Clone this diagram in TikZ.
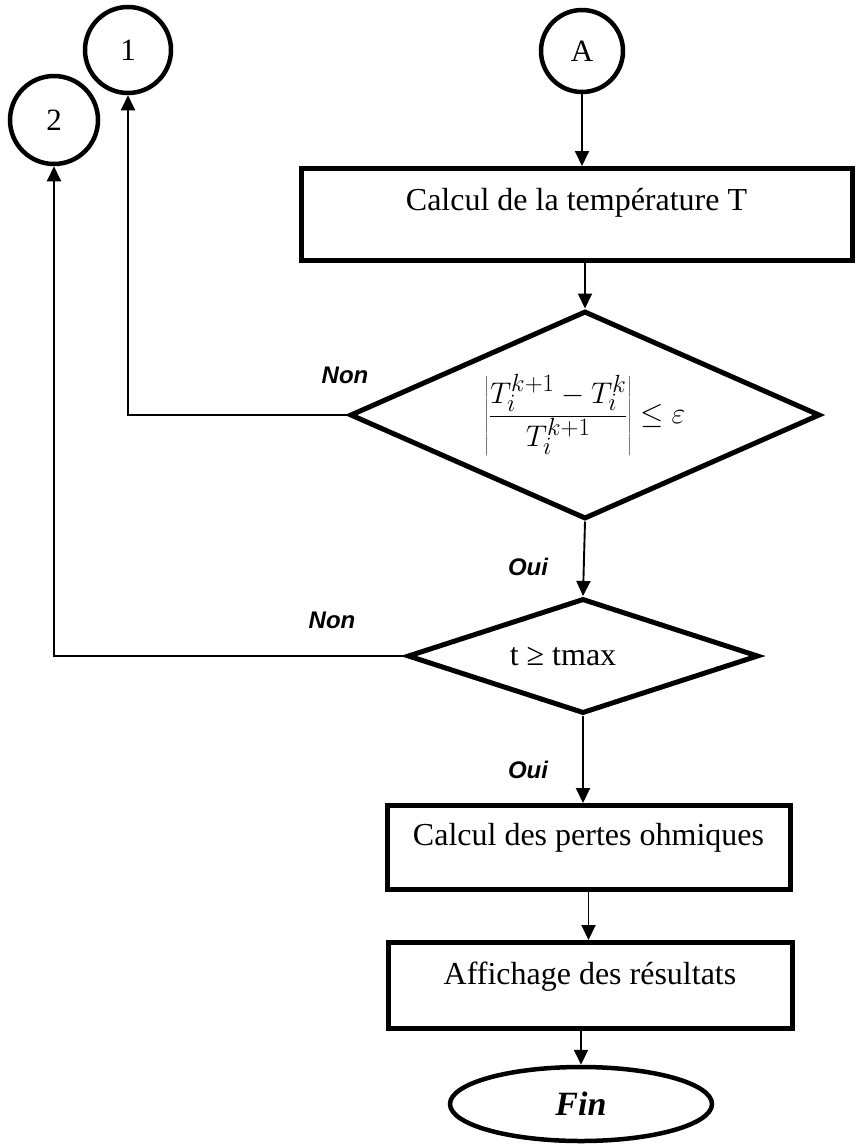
\documentclass[tikz,border=0pt]{standalone}
\usepackage{graphicx}
\usepackage{fontspec}
\setmainfont{Liberation Serif}
\newfontfamily\labfont{Liberation Sans}
\usetikzlibrary{shapes.geometric,arrows.meta}
\begin{document}
\begin{tikzpicture}[x=1pt,y=-1pt,
  conn/.style={line width=1.9pt,-{Triangle[length=15pt,width=14pt]}},
  conncirc/.style={circle,draw,line width=4.5pt,minimum size=86pt,inner sep=0pt,font=\fontsize{31}{36}\selectfont},
  procbox/.style={rectangle,draw,line width=5pt,inner sep=0pt,font=\fontsize{32}{38}\selectfont},
  decision/.style={diamond,draw,line width=5pt,inner sep=0pt},
  lab/.style={font=\labfont\bfseries\itshape\fontsize{24}{28}\selectfont},
]
\useasboundingbox (0,0) rectangle (858,1144);
\fill[white] (0,0) rectangle (858,1144);

\node[conncirc] (c1) at (128,50) {1};
\node[conncirc,minimum size=88pt] (c2) at (54,120) {2};
\node[conncirc,minimum size=82pt] (cA) at (582,51) {A};

\node[procbox,anchor=north,minimum width=551pt,text height=42pt,text depth=50pt] (b1) at (576.5,166) {Calcul de la température T};

\node[decision,shape aspect=2.26,minimum width=470pt,minimum height=208pt,font=\fontsize{24.88}{30}\selectfont] (d1) at (585,415)
  {\scalebox{1.2}{$\displaystyle\left|\frac{T_i^{k+1}-T_i^{k}}{T_i^{k+1}}\right|\le\varepsilon$}};

\node[decision,shape aspect=3.05,minimum width=351pt,minimum height=115pt,font=\fontsize{32}{38}\selectfont] (d2) at (583,656) {t ≥ tmax\hspace*{40pt}};

\node[procbox,anchor=north,minimum width=403pt,text height=40pt,text depth=44pt] (b2) at (588.5,803) {Calcul des pertes ohmiques};
\node[procbox,anchor=north,minimum width=404pt,text height=42pt,text depth=44pt] (b3) at (590,940) {Affichage des résultats};

\node[ellipse,draw,line width=4.5pt,minimum width=262pt,minimum height=74pt,inner sep=0pt,font=\fontsize{34}{40}\selectfont\bfseries\itshape] (fin) at (581,1104) {Fin};

\draw[conn] (cA.south) -- (cA.south |- b1.north);
\draw[conn] (b1.south -| d1.north) -- (d1.north);
\draw[conn] (d1.south) -- (d2.north);
\draw[conn] (d2.south) -- (d2.south |- b2.north);
\draw[conn] (b2.south) -- (b2.south |- b3.north);
\draw[conn] (b3.south -| fin.north) -- (fin.north);
\draw[conn] (d1.west) -| (c1.south);
\draw[conn] (d2.west) -| (c2.south);

\node[lab] (n1) at (345,375) {Non};
\node[lab] (n2) at (332,620) {Non};
\node[lab] (o1) at (528,567) {Oui};
\node[lab] (o2) at (528,770) {Oui};
\end{tikzpicture}
\end{document}
